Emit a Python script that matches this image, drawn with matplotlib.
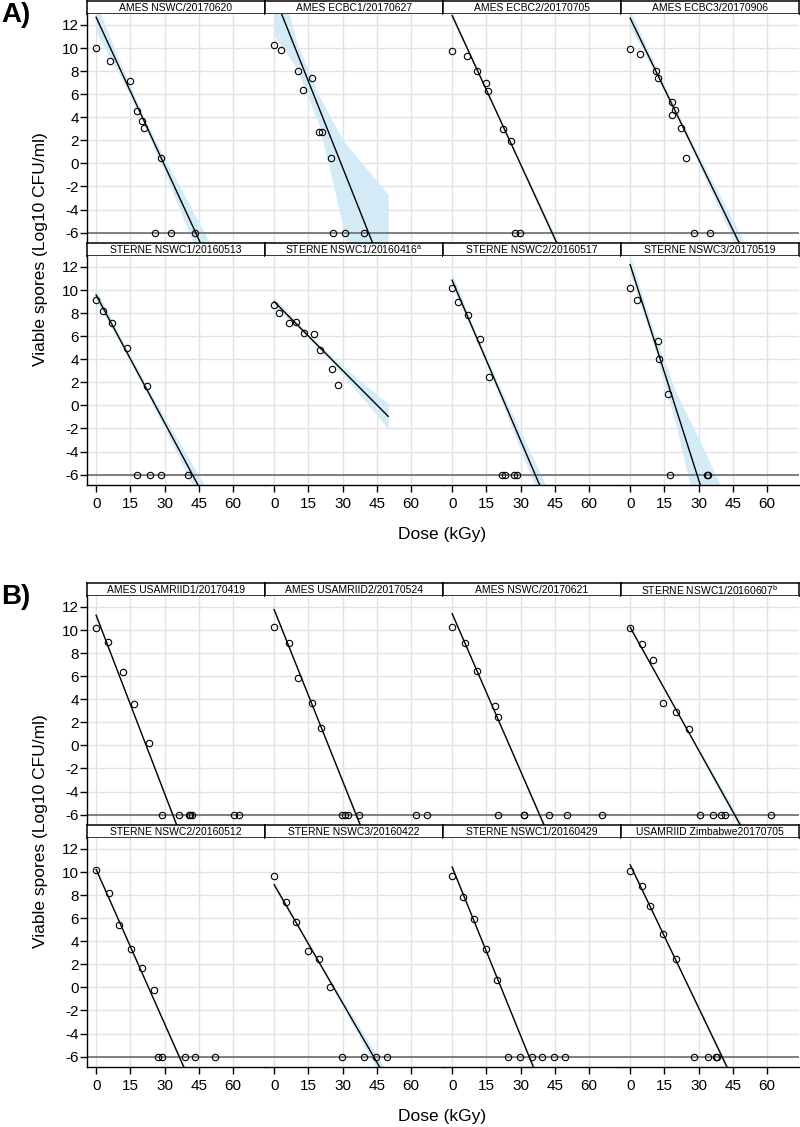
import numpy as np
import matplotlib.pyplot as plt

plt.rcParams['font.family'] = ['Liberation Sans', 'DejaVu Sans']
plt.rcParams['axes.unicode_minus'] = False

# ---- data ----
band_x = [0, 10, 20, 30, 40, 50]

# block A
a_titles = ["AMES NSWC/20170620", "AMES ECBC1/20170627", "AMES ECBC2/20170705",
            "AMES ECBC3/20170906", "STERNE NSWC1/20160513",
            "STERNE NSWC1/20160416$^{\\mathregular{a}}$",
            "STERNE NSWC2/20160517", "STERNE NSWC3/20170519"]
a_dose = [[0, 6, 15, 18, 20, 21, 28.5, 26, 33, 43.5],
          [0, 3, 10.5, 12.5, 16.5, 19.7, 20.8, 25, 26, 31, 39.5],
          [0, 6.7, 10.7, 14.8, 15.8, 22.2, 26, 27.4, 29.9],
          [0, 4.3, 11.3, 12, 18.5, 19.7, 18.5, 22.5, 24.4, 28.2, 35],
          [0, 2.9, 6.9, 13.5, 22.2, 17.8, 23.4, 28.4, 40.2],
          [0, 2, 6.7, 9.4, 13.3, 17.4, 20.3, 25.4, 27.9],
          [0, 2.5, 6.9, 12.4, 16, 21.8, 23, 27.3, 28.4],
          [0, 3.2, 12.1, 12.6, 16.8, 17.4, 33.5, 34.2]]
a_log = [[10.0, 8.9, 7.1, 4.5, 3.7, 3.05, 0.5, -6, -6, -6],
         [10.25, 9.85, 8.0, 6.4, 7.4, 2.7, 2.7, 0.5, -6, -6, -6],
         [9.7, 9.35, 8.0, 7.0, 6.25, 3.0, 1.95, -6, -6],
         [9.95, 9.5, 8.0, 7.4, 5.35, 4.65, 4.2, 3.1, 0.5, -6, -6],
         [9.1, 8.2, 7.1, 5.0, 1.7, -6, -6, -6, -6],
         [8.7, 8.0, 7.1, 7.2, 6.25, 6.15, 4.8, 3.15, 1.8],
         [10.2, 8.95, 7.8, 5.75, 2.5, -6, -6, -6, -6],
         [10.2, 9.15, 5.55, 4.0, 1.0, -6, -6, -6]]
a_icpt = [12.67, 14.59, 12.82, 12.6, 9.57, 9.0, 10.85, 12.2]
a_slope = [-0.428, -0.498, -0.43, -0.408, -0.369, -0.199, -0.463, -0.621]
a_band_lo = [[1.3, 0.6, 0.3, 0.6, 1.2, 1.8],
             [3.5, 1.4, 1.5, 5.0, 9.0, 13.0],
             [0.3, 0.2, 0.15, 0.2, 0.3, 0.4],
             [0.7, 0.4, 0.25, 0.4, 0.7, 1.0],
             [0.5, 0.3, 0.3, 0.5, 0.8, 1.1],
             [0.35, 0.2, 0.2, 0.4, 0.7, 1.1],
             [0.6, 0.3, 0.4, 0.8, 1.2, 1.6],
             [0.8, 0.6, 1.4, 3.6, 5.5, 7.5]]
a_band_hi = [[1.3, 0.6, 0.3, 0.6, 1.2, 1.8],
             [3.5, 0.8, 1.1, 2.4, 5.0, 7.6],
             [0.3, 0.2, 0.15, 0.2, 0.3, 0.4],
             [0.7, 0.4, 0.25, 0.4, 0.7, 1.0],
             [0.5, 0.3, 0.3, 0.5, 0.8, 1.1],
             [0.35, 0.2, 0.2, 0.4, 0.7, 1.1],
             [0.6, 0.3, 0.4, 0.8, 1.2, 1.6],
             [0.8, 0.6, 1.4, 3.6, 5.5, 7.5]]

# block B
b_titles = ["AMES USAMRIID1/20170419", "AMES USAMRIID2/20170524",
            "AMES NSWC/20170621", "STERNE NSWC1/20160607$^{\\mathregular{b}}$",
            "STERNE NSWC2/20160512", "STERNE NSWC3/20160422",
            "STERNE NSWC1/20160429", "USAMRIID Zimbabwe20170705"]
b_dose = [[0, 5, 11.7, 16.4, 23, 28.8, 36.2, 40.6, 41.3, 42, 60.6, 62.7],
          [0, 6.3, 10.5, 16.5, 20.4, 29.7, 31, 32.5, 37.4, 62, 67],
          [0, 5.5, 10.8, 18.7, 20.1, 20.3, 31.3, 31.7, 42.6, 50.4, 65.7],
          [0, 5.4, 9.9, 14.6, 20.2, 26, 30.5, 36.4, 39.9, 41.6, 61.6],
          [0, 5.5, 10.2, 15.2, 19.9, 25.3, 27.2, 28.9, 39.1, 43.5, 52.3],
          [0, 5, 9.8, 14.8, 19.7, 24.5, 29.7, 39.6, 44.7, 49.4],
          [0, 4.7, 9.8, 14.8, 19.6, 24.5, 29.7, 34.8, 39.6, 44.6, 49.4],
          [0, 5, 8.6, 14.5, 20.2, 28, 34.3, 37.6, 38.2]]
b_log = [[10.2, 9.0, 6.4, 3.6, 0.2, -6, -6, -6, -6, -6, -6, -6],
         [10.25, 8.85, 5.8, 3.7, 1.5, -6, -6, -6, -6, -6, -6],
         [10.25, 8.85, 6.45, 3.4, 2.5, -6, -6, -6, -6, -6, -6],
         [10.2, 8.8, 7.4, 3.7, 2.9, 1.4, -6, -6, -6, -6, -6],
         [10.2, 8.2, 5.45, 3.3, 1.7, -0.2, -6, -6, -6, -6, -6],
         [9.65, 7.4, 5.65, 3.15, 2.5, 0.0, -6, -6, -6, -6],
         [9.65, 7.8, 5.9, 3.3, 0.6, -6, -6, -6, -6, -6, -6],
         [10.1, 8.8, 7.05, 4.65, 2.45, -6, -6, -6, -6]]
b_icpt = [11.28, 11.77, 11.42, 10.24, 10.23, 8.91, 10.43, 10.63]
b_slope = [-0.515, -0.495, -0.455, -0.355, -0.446, -0.342, -0.487, -0.413]
b_band = [[0.25, 0.15, 0.12, 0.2, 0.35, 0.5],
          [0.25, 0.15, 0.12, 0.2, 0.35, 0.5],
          [0.2, 0.12, 0.1, 0.18, 0.3, 0.45],
          [0.2, 0.12, 0.1, 0.18, 0.3, 0.45],
          [0.2, 0.12, 0.1, 0.18, 0.3, 0.45],
          [0.3, 0.2, 0.15, 0.3, 0.5, 0.7],
          [0.2, 0.12, 0.1, 0.18, 0.3, 0.45],
          [0.2, 0.12, 0.1, 0.18, 0.3, 0.45]]

# ---- layout (pixels) ----
W, H = 800, 1127
col_left = [87, 265, 443, 621]
col_w = 178
strip_h = 13
panel_h = 229

fig = plt.figure(figsize=(W / 100, H / 100), dpi=100)


def px_rect(x, y, w, h):
    return [x / W, 1 - (y + h) / H, w / W, h / H]


def draw_block(top, titles, doses, logs, icpts, slopes, lo, hi, tag):
    for i in range(8):
        r, c = divmod(i, 4)
        y0 = top + r * (strip_h + panel_h)

        sax = fig.add_axes(px_rect(col_left[c], y0, col_w, strip_h))
        sax.set_xticks([])
        sax.set_yticks([])
        for s in sax.spines.values():
            s.set_linewidth(1.1)
        sax.text(0.5, 0.45, titles[i], ha='center', va='center',
                 fontsize=7.5, transform=sax.transAxes)

        ax = fig.add_axes(px_rect(col_left[c], y0 + strip_h, col_w, panel_h))
        ax.set_xlim(-4, 74)
        ax.set_ylim(-6.9, 12.95)
        ax.set_xticks([0, 15, 30, 45, 60])
        ax.set_yticks(range(-6, 13, 2))
        ax.grid(color='#e2e2e2', lw=1.0, zorder=0)
        ax.set_axisbelow(True)
        for side in ['top', 'right']:
            ax.spines[side].set_visible(False)
        ax.spines['left'].set_visible(c == 0)
        ax.spines['bottom'].set_visible(r == 1)
        ax.spines['left'].set_linewidth(1.0)
        ax.spines['bottom'].set_linewidth(1.0)
        ax.tick_params(axis='y', length=5 if c == 0 else 0, width=1.0,
                       labelleft=(c == 0), labelsize=11, pad=1)
        ax.tick_params(axis='x', length=5 if r == 1 else 0, width=1.0,
                       labelbottom=(r == 1), labelsize=11, pad=4)

        bx = np.array(band_x, dtype=float)
        fit = icpts[i] + slopes[i] * bx
        ax.fill_between(bx, fit - np.array(lo[i]), fit + np.array(hi[i]),
                        color='#d3ebf7', lw=0, zorder=1)
        ax.axhline(-6, color='#777777', lw=1.3, zorder=2)
        lx = np.array([0, 50])
        ax.plot(lx, icpts[i] + slopes[i] * lx, color='black', lw=1.0, zorder=3)
        ax.plot(doses[i], logs[i], 'o', mfc='none', mec='black', ms=4.6,
                mew=0.8, zorder=4)

    fig.text(1 / W, 1 - (top + 1) / H, tag, ha='left', va='top',
             fontsize=20, weight='bold')
    mid = top + strip_h + (strip_h + 2 * panel_h) / 2
    fig.text(41 / W, 1 - mid / H, 'Viable spores (Log10 CFU/ml)',
             rotation=90, ha='center', va='center', fontsize=12.5)
    bottom = top + 2 * (strip_h + panel_h)
    fig.text(442 / W, 1 - (bottom + 50) / H, 'Dose (kGy)',
             ha='center', va='center', fontsize=12.5)


draw_block(1, a_titles, a_dose, a_log, a_icpt, a_slope, a_band_lo, a_band_hi, 'A)')
draw_block(583, b_titles, b_dose, b_log, b_icpt, b_slope, b_band, b_band, 'B)')

fig.savefig('out.png', dpi=100)
